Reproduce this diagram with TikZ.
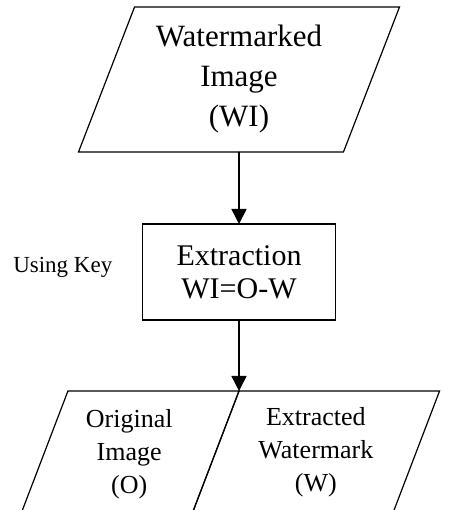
\documentclass[tikz,border=0pt]{standalone}
\usepackage{fontspec}
\setmainfont{Liberation Serif}
\usetikzlibrary{arrows.meta,shapes.geometric,positioning}

\begin{document}
\begin{tikzpicture}[x=1pt,y=1pt,node distance=72pt]
        \tikzstyle{data}=[draw, trapezium, trapezium left angle=68, trapezium right angle=112,
                          line width=1.2pt, outer sep=0pt, align=center]
        \tikzstyle{process}=[draw, rectangle, minimum width=193pt, minimum height=96pt,
                             line width=1.2pt, outer sep=0pt, align=center]

        \clip (0,0) rectangle (448,510);

        \node[data, trapezium stretches, minimum width=322pt, minimum height=145pt,
              font=\fontsize{31}{40}\selectfont]                 (wi)  at (239,430.5) {Watermarked\\Image\\(WI)};
        \node[process, font=\fontsize{30}{33}\selectfont]       (ext) [below=of wi] {Extraction\\WI=O-W};
        \node[inner sep=0pt, font=\fontsize{23}{28}\selectfont] (key) [left=30pt of ext, yshift=5pt] {Using Key};

        % outputs share one slanted side
        \node[data, trapezium left angle=69, trapezium right angle=111,
              minimum width=220pt, minimum height=122pt, anchor=top right corner,
              font=\fontsize{26}{33}\selectfont]                 (orig) at ([yshift=-71pt]ext.south) {Original\\Image\\(O)};
        \node[data, trapezium left angle=69, trapezium right angle=111,
              minimum width=248pt, minimum height=122pt, anchor=top left corner,
              font=\fontsize{26}{33}\selectfont]                 (wm) at (orig.top right corner) {Extracted\\Watermark\\(W)};

        \path[-{Triangle[length=15pt,width=15pt]}, line width=1.6pt]
            (wi)        edge (ext)
            (ext.south) edge (ext.south |- orig.north)
        ;
\end{tikzpicture}
\end{document}
